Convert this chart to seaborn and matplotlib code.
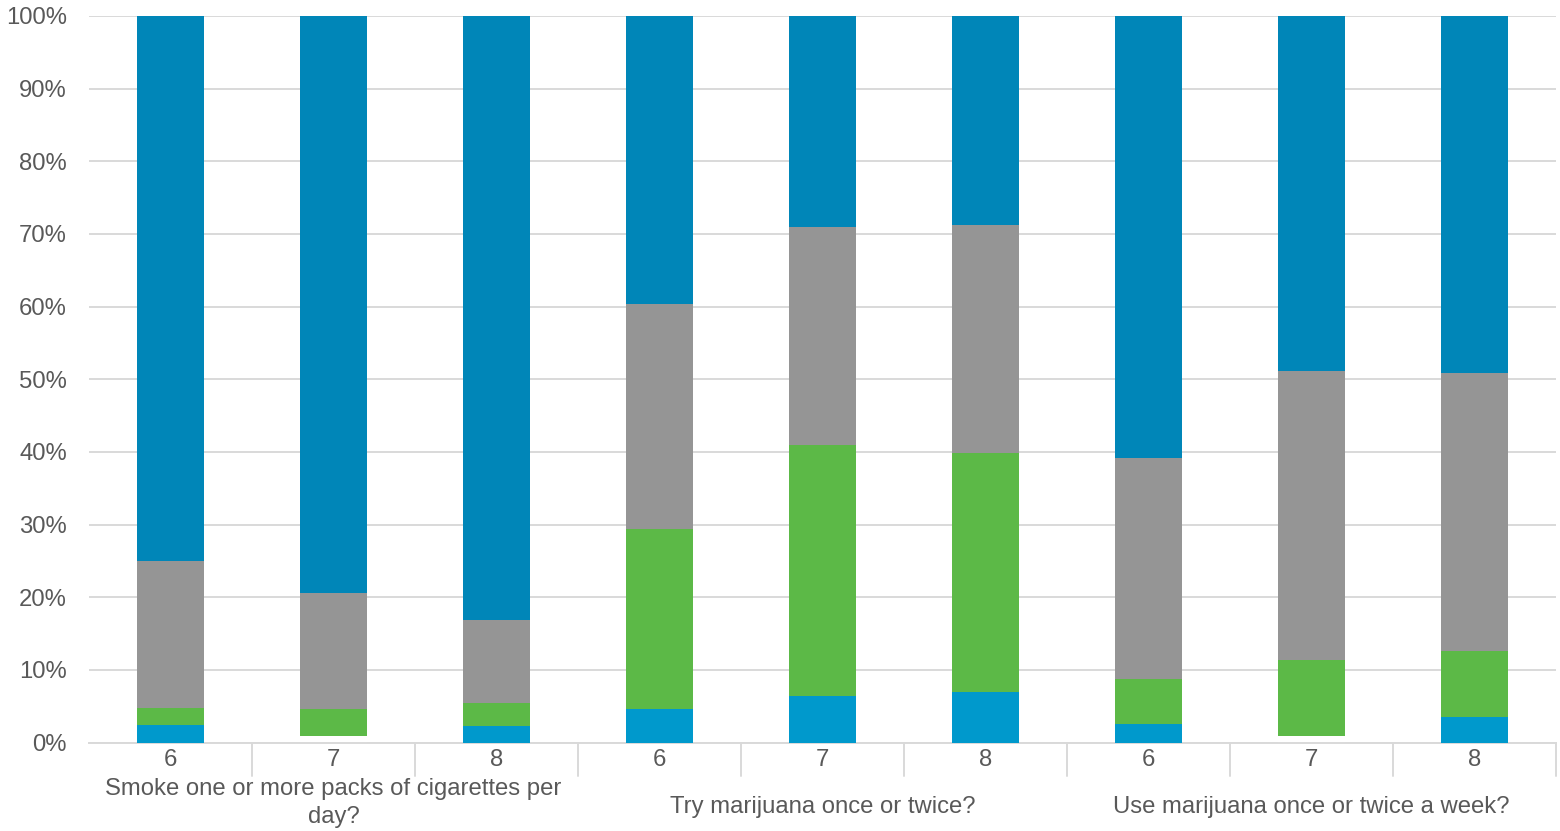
import matplotlib
matplotlib.use("Agg")
import matplotlib.pyplot as plt
import matplotlib.transforms as mtransforms
import seaborn as sns
import pandas as pd

# ---- data (percent of respondents) ----
groups = ["Smoke one or more packs of cigarettes per\nday?",
          "Try marijuana once or twice?",
          "Use marijuana once or twice a week?"]
grades = ["6", "7", "8"]
bar_ids = [f"{g}-{gr}" for g in range(3) for gr in grades]
tick_labels = grades * 3

seg_lightblue = [2.4, 0.0, 2.3, 4.6, 6.4, 6.9, 2.6, 0.0, 3.5]
seg_blank     = [0.0, 0.9, 0.0, 0.0, 0.0, 0.0, 0.0, 0.9, 0.0]
seg_green     = [2.4, 3.7, 3.1, 24.8, 34.6, 33.0, 6.1, 10.5, 9.1]
seg_gray      = [20.2, 16.0, 11.4, 30.9, 30.0, 31.4, 30.5, 39.8, 38.3]
seg_darkblue  = [75.0, 79.4, 83.2, 39.7, 29.0, 28.7, 60.8, 48.8, 49.1]

layers = [("lightblue", seg_lightblue, "#0099CC", 3.0),
          ("blank", seg_blank, "#FFFFFF", 2.0),
          ("green", seg_green, "#5CB947", 1.8),
          ("gray", seg_gray, "#959595", 1.6),
          ("darkblue", seg_darkblue, "#0086B8", 1.5)]

# cumulative tops
rows = []
cum = [0.0] * len(bar_ids)
for name, vals, col, z in layers:
    cum = [c + v for c, v in zip(cum, vals)]
    for b, c in zip(bar_ids, cum):
        rows.append({"bar": b, "layer": name, "top": c})
df = pd.DataFrame(rows)

sns.set_theme(style="white")
plt.rcParams["font.family"] = ["Liberation Sans", "DejaVu Sans"]

fig = plt.figure(figsize=(15.6, 8.31), dpi=100)
ax = fig.add_axes([89 / 1560, 88.5 / 831, (1556 - 89) / 1560, (742.5 - 16) / 831])

text_col = "#595959"
grid_col = "#D9D9D9"
fs = 17.2

for name, vals, col, z in reversed(layers):
    sub = df[df["layer"] == name]
    sns.barplot(data=sub, x="bar", y="top", order=bar_ids, color=col,
                width=0.405, saturation=1, linewidth=0, ax=ax, zorder=z)

ax.set_xlim(-0.5, 8.5)
ax.set_ylim(0, 100)
ax.set_yticks(range(0, 101, 10))
ax.set_yticklabels([f"{v}%" for v in range(0, 101, 10)])
ax.yaxis.grid(True, color=grid_col, linewidth=1.4)
ax.set_axisbelow(True)
ax.set_xticks(range(9))
ax.set_xticklabels(tick_labels)
ax.tick_params(axis="y", length=0, pad=16, labelsize=fs, labelcolor=text_col)
ax.tick_params(axis="x", length=0, pad=5, labelsize=fs, labelcolor=text_col)
ax.set_xlabel("")
ax.set_ylabel("")
for s in ["top", "right", "left"]:
    ax.spines[s].set_visible(False)
ax.spines["bottom"].set_color(grid_col)
ax.spines["bottom"].set_linewidth(1.4)
ax.spines["bottom"].set_zorder(2.5)

# category separators
trans = mtransforms.blended_transform_factory(ax.transData, ax.transAxes)
sep_bottom = -33.5 / 726.5
for xs in [i + 0.5 for i in range(9)]:
    ax.plot([xs, xs], [0, sep_bottom], color=grid_col, linewidth=1.4,
            transform=trans, clip_on=False, zorder=1)

# group labels
for gi, label in enumerate(groups):
    ycen = -60.5 / 726.5 if gi == 0 else -64 / 726.5
    ax.text(gi * 3 + 1, ycen, label, transform=trans, ha="center", va="center",
            fontsize=fs, color=text_col, linespacing=1.38)

fig.savefig("out.png", dpi=100, facecolor="white")
